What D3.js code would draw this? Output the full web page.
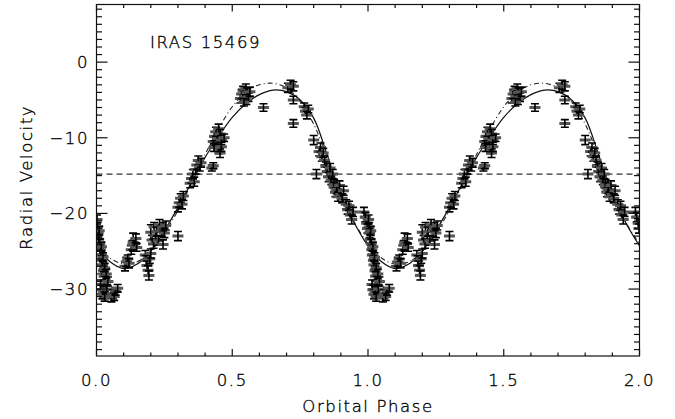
<!DOCTYPE html>
<html lang="en">
<head>
<meta charset="UTF-8">
<title>IRAS 15469 radial velocity</title>
<script src="https://cdnjs.cloudflare.com/ajax/libs/d3/7.8.5/d3.min.js"></script>
<style>
	body { margin: 0; background: #fff; }
	text { font-family: "DejaVu Sans", sans-serif; font-weight: 200; fill: #000; stroke: #000; stroke-width: 0.35; letter-spacing: 1.6px; }
</style>
</head>
<body>
<div id="chart"></div>
<script>
	// observations, one orbital cycle: [phase, velocity, error]
	const obs = [
		[0.985,-19.8,0.6],[0.990,-20.5,0.6],[0.995,-21.3,0.6],[0.998,-22.0,0.6],
		[0.002,-20.8,0.6],[0.004,-21.8,0.6],[0.006,-22.6,0.6],[0.008,-23.4,0.6],[0.010,-22.3,0.6],
		[0.012,-24.0,0.6],[0.014,-24.8,0.6],[0.016,-25.5,0.6],[0.018,-24.4,0.6],[0.020,-26.2,0.6],
		[0.022,-26.8,0.6],[0.024,-25.8,0.6],[0.026,-27.6,0.6],[0.028,-28.3,0.6],[0.030,-27.2,0.6],
		[0.032,-28.9,0.6],[0.034,-29.5,0.6],[0.036,-28.0,0.6],[0.015,-29.4,0.6],[0.018,-30.1,0.6],
		[0.022,-30.7,0.6],[0.026,-30.3,0.6],[0.030,-31.0,0.6],[0.038,-30.0,0.6],[0.042,-29.0,0.6],
		[0.055,-31.2,0.5],[0.060,-30.6,0.5],[0.065,-31.0,0.5],[0.070,-30.3,0.5],[0.078,-29.9,0.5],
		[0.105,-27.0,0.6],[0.110,-26.4,0.6],[0.115,-26.0,0.5],[0.120,-26.6,0.6],
		[0.128,-24.8,0.6],[0.132,-24.2,0.6],[0.135,-23.8,1.2],[0.140,-24.0,0.6],[0.145,-23.3,0.6],[0.148,-24.5,0.5],
		[0.180,-25.5,0.6],[0.183,-26.2,0.6],[0.186,-26.9,0.6],[0.190,-27.5,0.6],[0.193,-28.2,0.6],[0.196,-26.0,0.6],[0.200,-25.3,0.6],
		[0.200,-22.5,1.0],[0.205,-23.5,0.6],[0.210,-24.0,0.6],[0.212,-21.8,0.6],[0.218,-23.0,0.6],
		[0.222,-22.4,0.6],[0.228,-23.6,0.6],[0.232,-21.5,0.7],
		[0.240,-22.3,0.7],[0.245,-21.8,0.6],[0.250,-22.6,0.6],[0.255,-21.6,0.6],[0.245,-24.1,0.6],
		[0.300,-23.0,0.6],
		[0.300,-19.2,0.6],[0.305,-18.6,0.6],[0.310,-18.0,0.6],[0.315,-18.8,0.6],[0.320,-17.7,0.6],
		[0.345,-16.0,0.6],[0.350,-15.4,0.6],[0.355,-14.8,0.6],[0.360,-15.8,0.6],[0.365,-14.2,0.6],
		[0.370,-13.6,0.6],[0.375,-13.0,0.6],[0.380,-13.8,0.6],[0.385,-13.3,0.6],
		[0.425,-14.0,0.4],[0.430,-13.7,0.4],
		[0.430,-10.5,0.6],[0.435,-9.8,0.6],[0.440,-9.2,0.6],[0.445,-10.1,0.6],[0.450,-8.8,0.6],
		[0.455,-9.5,0.6],[0.460,-10.3,0.6],[0.470,-10.0,0.5],
		[0.450,-11.5,0.6],[0.455,-12.0,0.6],[0.460,-11.2,0.6],[0.433,-11.3,0.5],
		[0.530,-4.8,0.6],[0.535,-4.2,0.6],[0.540,-3.8,0.6],[0.545,-4.5,0.6],[0.550,-3.5,0.6],
		[0.552,-5.0,0.6],[0.555,-4.0,0.6],[0.560,-4.6,0.6],[0.565,-3.9,0.6],[0.543,-5.3,0.5],
		[0.615,-6.0,0.5],
		[0.705,-3.4,0.6],[0.715,-3.0,0.6],[0.725,-3.2,0.6],[0.725,-5.0,0.5],[0.725,-8.1,0.5],
		[0.765,-5.9,0.5],[0.770,-6.5,0.5],[0.775,-7.0,0.5],[0.780,-6.2,0.5],
		[0.800,-10.3,0.6],
		[0.820,-11.8,0.6],[0.825,-11.3,0.6],[0.830,-12.5,0.6],[0.835,-12.0,0.6],[0.840,-13.0,0.6],
		[0.810,-14.8,0.6],
		[0.845,-13.8,0.6],[0.850,-14.5,0.6],[0.855,-15.2,0.6],[0.860,-14.0,0.6],[0.865,-15.6,0.6],
		[0.870,-14.8,0.6],[0.875,-16.1,0.6],
		[0.875,-16.5,0.6],[0.880,-17.2,0.6],[0.885,-16.8,0.6],[0.890,-17.8,0.6],[0.895,-16.3,0.6],
		[0.900,-17.5,0.6],[0.905,-18.0,0.6],[0.910,-17.0,0.6],
		[0.920,-18.8,0.6],[0.925,-19.5,0.6],[0.930,-19.0,0.6],[0.935,-20.2,0.6],[0.940,-20.8,0.6],[0.945,-19.8,0.6]
	];

	// model curves, one cycle
	const modelPhase = [0,0.05,0.1,0.15,0.2,0.25,0.3,0.35,0.4,0.45,0.5,0.55,0.6,0.65,0.7,0.75,0.8,0.85,0.9,0.95,1.0];
	const fitSolid   = [-24.3,-26.4,-27.3,-26.7,-25.0,-22.3,-19.2,-15.9,-12.6,-9.8,-7.3,-5.5,-4.3,-3.7,-3.9,-5.0,-7.4,-12.3,-17.6,-21.3,-24.3];
	const fitDashDot = [-24.0,-25.9,-26.7,-26.4,-25.0,-22.6,-19.6,-16.0,-12.2,-8.8,-5.9,-4.0,-3.0,-2.8,-3.4,-5.2,-8.2,-12.6,-17.4,-21.2,-24.0];
	const systemic = -14.8;

	const xTicks = [0, 0.5, 1.0, 1.5, 2.0];
	const yTicks = [0, -10, -20, -30];

	const W = 675, H = 419;
	const pLeft = 96.5, pRight = 639.5, pTop = 4.5, pBottom = 356;

	const svg = d3.select("#chart").append("svg")
		.attr("width", W).attr("height", H);

	const x = d3.scaleLinear().domain([0, 2]).range([pLeft, pRight]);
	const y = d3.scaleLinear().domain([-38.85, 7.62]).range([pBottom, pTop]);

	const plot = svg.append("g");
	plot.append("clipPath").attr("id", "clip")
		.append("rect").attr("x", pLeft).attr("y", pTop)
		.attr("width", pRight - pLeft).attr("height", pBottom - pTop);
	const inner = plot.append("g").attr("clip-path", "url(#clip)");

	// systemic velocity
	inner.append("line")
		.attr("x1", x(0)).attr("x2", x(2))
		.attr("y1", y(systemic)).attr("y2", y(systemic))
		.attr("stroke", "#333").attr("stroke-width", 1.2)
		.attr("stroke-dasharray", "6,4");

	// models, repeated over two cycles
	function twoCycles(vals) {
		const pts = modelPhase.map((p, i) => [p, vals[i]]);
		return pts.concat(pts.slice(1).map(d => [d[0] + 1, d[1]]));
	}
	const line = d3.line().x(d => x(d[0])).y(d => y(d[1])).curve(d3.curveCatmullRom);
	inner.append("path").datum(twoCycles(fitDashDot))
		.attr("d", line).attr("fill", "none")
		.attr("stroke", "#222").attr("stroke-width", 1.1)
		.attr("stroke-dasharray", "5,3,1,3");
	inner.append("path").datum(twoCycles(fitSolid))
		.attr("d", line).attr("fill", "none")
		.attr("stroke", "#111").attr("stroke-width", 1.2);

	// data points with error bars
	const all = obs.concat(obs.map(d => [d[0] + 1, d[1], d[2]]));
	const pt = inner.selectAll(".pt").data(all).enter().append("g")
		.attr("transform", d => `translate(${x(d[0])},${y(d[1])})`);
	pt.append("line")
		.attr("x1", -5.5).attr("x2", 5.5).attr("y1", 0).attr("y2", 0)
		.attr("stroke", "#555").attr("stroke-width", 3);
	pt.append("line")
		.attr("x1", 0).attr("x2", 0)
		.attr("y1", d => y(d[1] + d[2]) - y(d[1]))
		.attr("y2", d => y(d[1] - d[2]) - y(d[1]))
		.attr("stroke", "#000").attr("stroke-width", 1.6);
	pt.selectAll(".cap").data(d => [d[2], -d[2]].map(e => y(d[1] + e) - y(d[1])))
		.enter().append("line")
		.attr("x1", -4).attr("x2", 4)
		.attr("y1", d => d).attr("y2", d => d)
		.attr("stroke", "#000").attr("stroke-width", 1.6);

	// frame and inward ticks
	const frame = svg.append("g").attr("stroke", "#111").attr("stroke-width", 1.2);
	frame.append("rect").attr("x", pLeft).attr("y", pTop)
		.attr("width", pRight - pLeft).attr("height", pBottom - pTop).attr("fill", "none");

	const xMinor = d3.range(0, 21).map(i => i / 10);
	xMinor.forEach(v => {
		const major = Math.abs(v * 2 - Math.round(v * 2)) < 1e-6;
		const len = major ? 7 : 3.5;
		frame.append("line").attr("x1", x(v)).attr("x2", x(v)).attr("y1", pBottom).attr("y2", pBottom - len);
		frame.append("line").attr("x1", x(v)).attr("x2", x(v)).attr("y1", pTop).attr("y2", pTop + len);
	});
	const yMinor = d3.range(-38, 8);
	yMinor.forEach(v => {
		const major = v % 10 === 0;
		const len = major ? 11 : 5.5;
		frame.append("line").attr("y1", y(v)).attr("y2", y(v)).attr("x1", pLeft).attr("x2", pLeft + len);
		frame.append("line").attr("y1", y(v)).attr("y2", y(v)).attr("x1", pRight).attr("x2", pRight - len);
	});

	// tick labels
	svg.selectAll(".xl").data(xTicks).enter().append("text")
		.attr("x", d => x(d)).attr("y", 386)
		.attr("text-anchor", "middle").attr("font-size", 16.5)
		.text(d => d.toFixed(1));
	svg.selectAll(".yl").data(yTicks).enter().append("text")
		.attr("x", 89).attr("y", d => y(d) + 6)
		.attr("text-anchor", "end").attr("font-size", 16.5)
		.text(d => d === 0 ? "0" : "\u2212" + Math.abs(d));

	// titles
	svg.append("text").attr("x", x(1)).attr("y", 412)
		.attr("text-anchor", "middle").attr("font-size", 16.5)
		.text("Orbital Phase");
	svg.append("text")
		.attr("transform", `translate(32,${(pTop + pBottom) / 2 - 3}) rotate(-90)`)
		.attr("text-anchor", "middle").attr("font-size", 16.5)
		.text("Radial Velocity");
	svg.append("text").attr("x", 150).attr("y", 48)
		.attr("font-size", 16.5).text("IRAS 15469");
</script>
</body>
</html>
